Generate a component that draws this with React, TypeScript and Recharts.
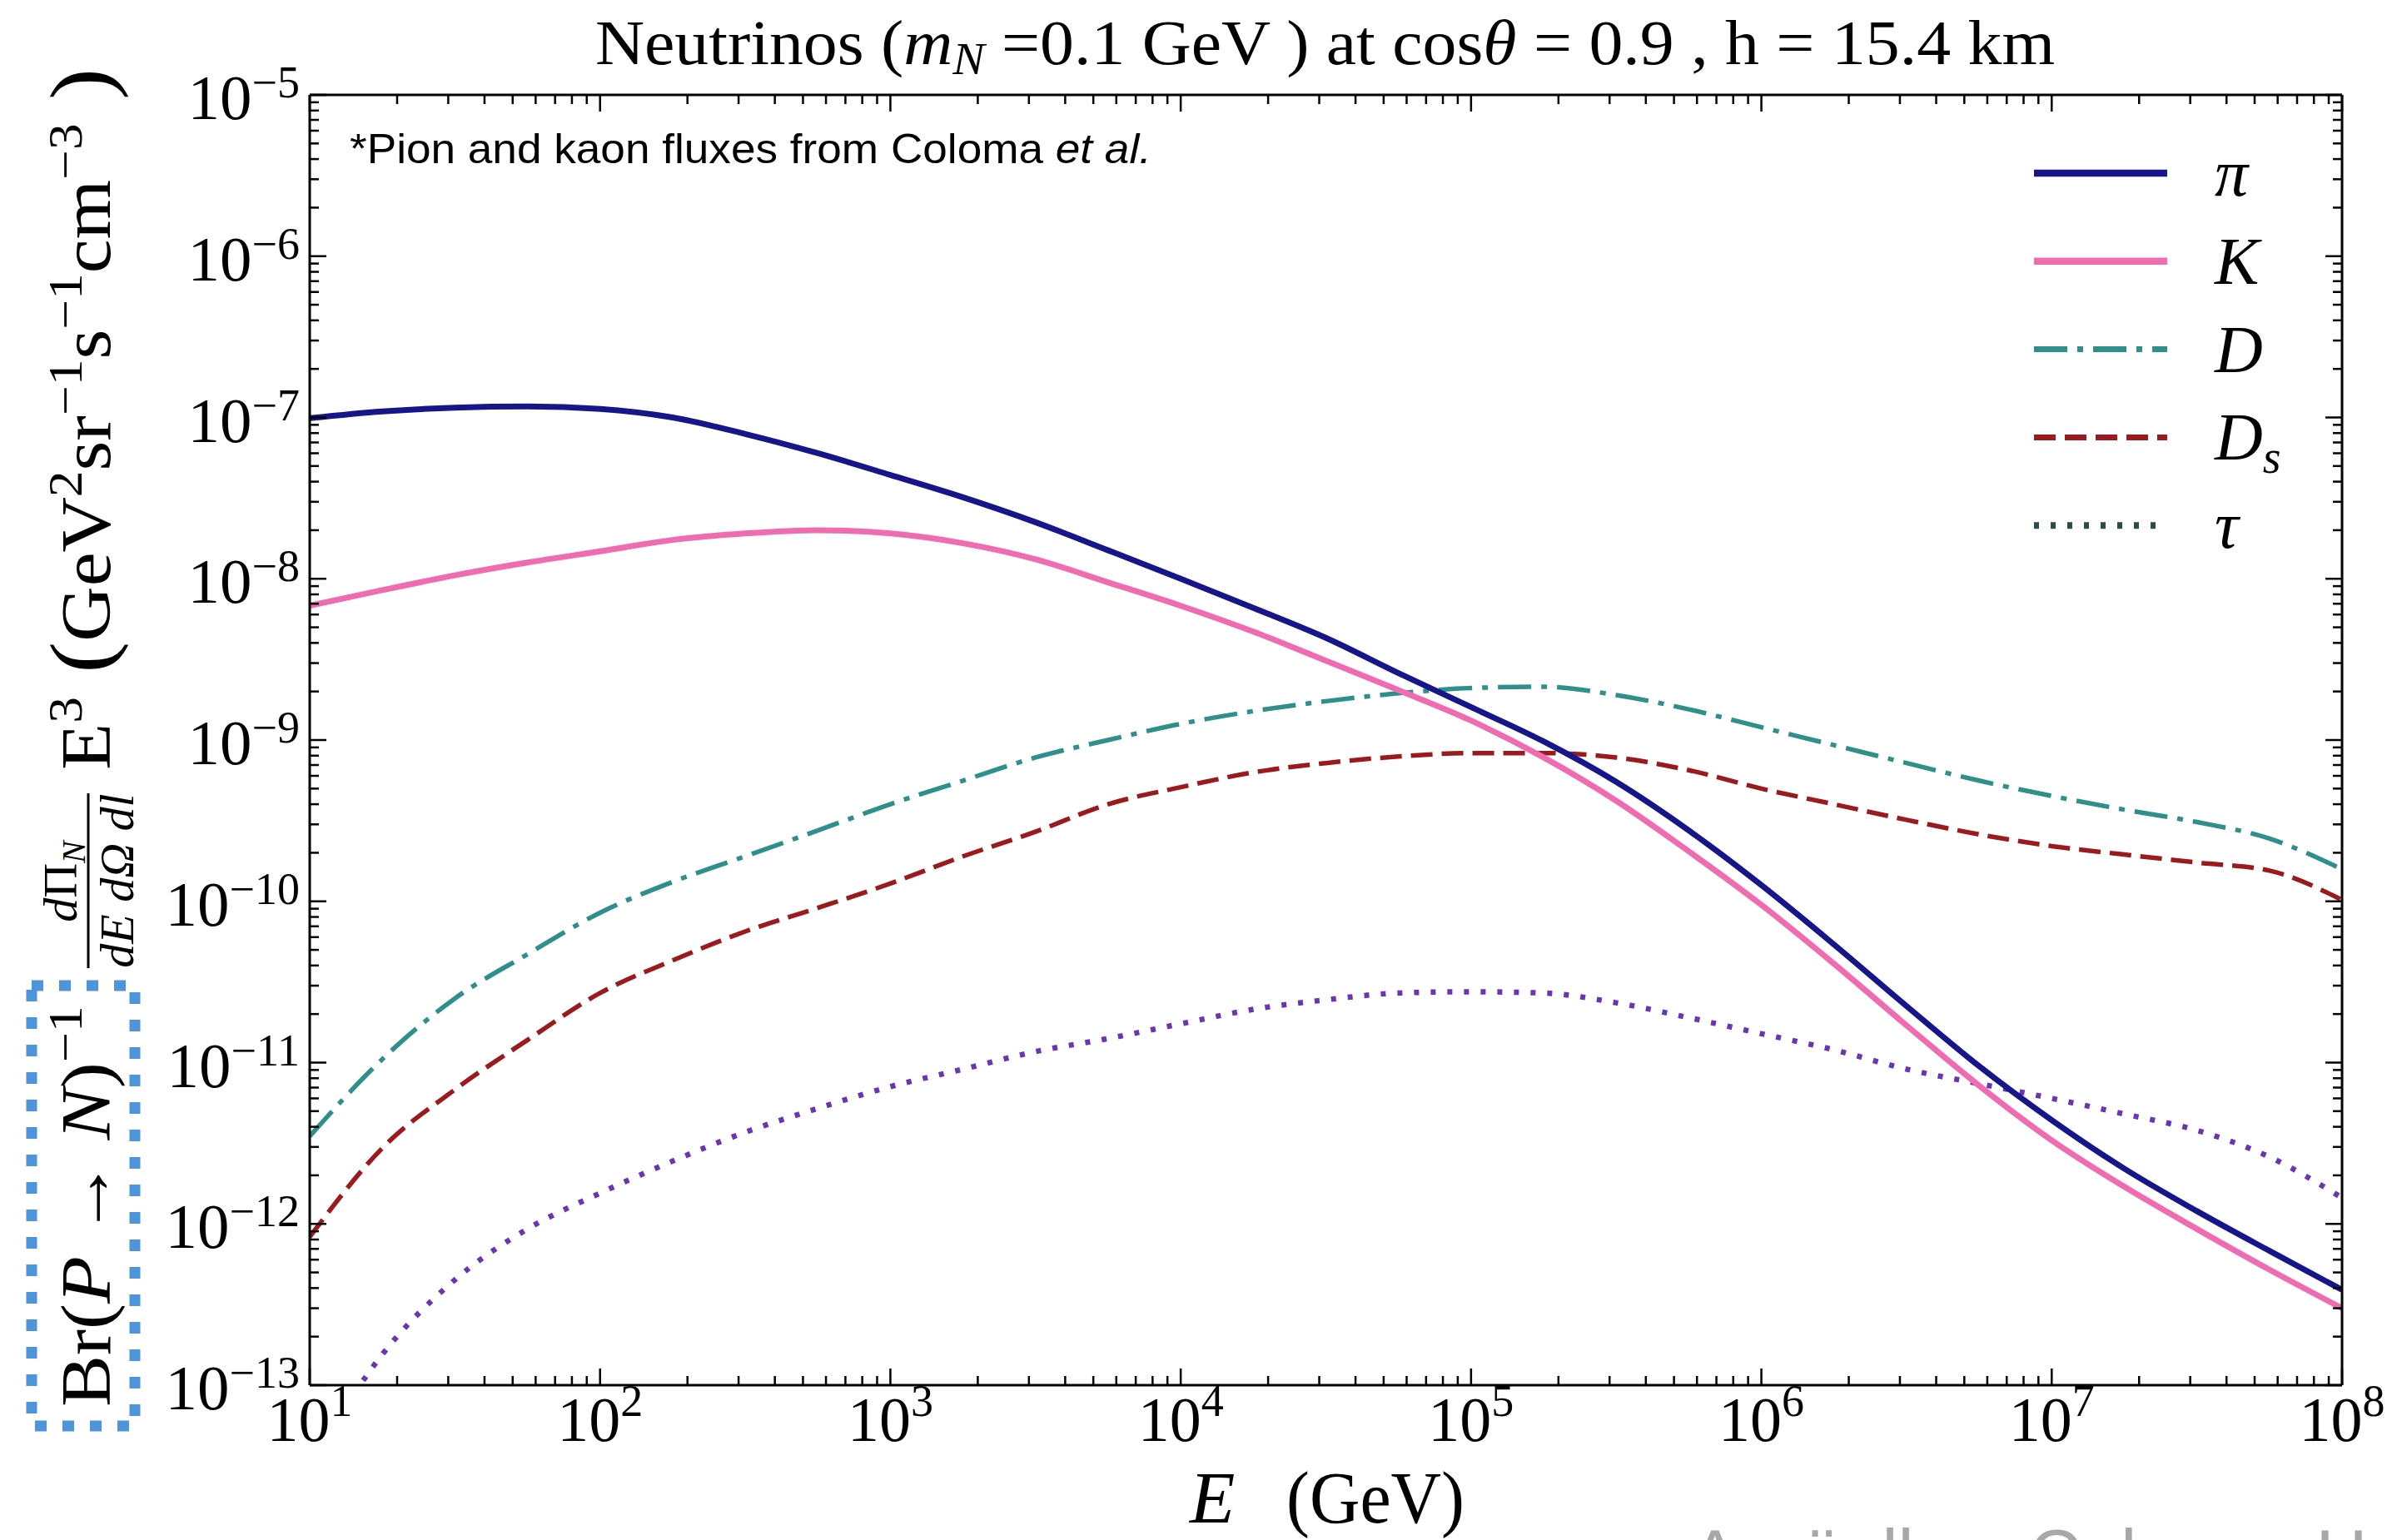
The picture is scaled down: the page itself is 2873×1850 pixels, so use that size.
import React from 'react';
import { LineChart, Line, XAxis, YAxis } from 'recharts';

// Energy grid (GeV), quarter-decade steps from 10 GeV to 1e8 GeV
const ENERGY = [
  10, 17.78, 31.62, 56.23, 100, 177.8, 316.2, 562.3, 1e3, 1778, 3162, 5623, 1e4,
  1.778e4, 3.162e4, 5.623e4, 1e5, 1.778e5, 3.162e5, 5.623e5, 1e6, 1.778e6, 3.162e6,
  5.623e6, 1e7, 1.778e7, 3.162e7, 5.623e7, 1e8,
];

// Br^-1 dPhi/(dE dOmega dl) E^3 for each parent meson / lepton
const PION = [
  9.9e-8, 1.09e-7, 1.15e-7, 1.17e-7, 1.13e-7, 1.0e-7, 7.9e-8, 6.0e-8, 4.4e-8, 3.2e-8,
  2.24e-8, 1.5e-8, 1.0e-8, 6.6e-9, 4.3e-9, 2.6e-9, 1.6e-9, 9.8e-10, 5.5e-10, 2.75e-10,
  1.26e-10, 5.4e-11, 2.24e-11, 9.5e-12, 4.4e-12, 2.2e-12, 1.2e-12, 6.8e-13, 3.9e-13,
];
const KAON = [
  6.8e-9, 8.5e-9, 1.05e-8, 1.26e-8, 1.48e-8, 1.74e-8, 1.91e-8, 2.0e-8, 1.91e-8, 1.66e-8,
  1.32e-8, 9.5e-9, 6.8e-9, 4.7e-9, 3.1e-9, 2.04e-9, 1.32e-9, 7.8e-10, 4.2e-10, 2.04e-10,
  9.5e-11, 4.1e-11, 1.7e-11, 7.2e-12, 3.3e-12, 1.7e-12, 9.3e-13, 5.2e-13, 3.0e-13,
];
const D_MESON = [
  3.5e-12, 1.05e-11, 2.5e-11, 4.7e-11, 8.5e-11, 1.32e-10, 1.9e-10, 2.75e-10, 4.0e-10, 5.6e-10,
  7.8e-10, 1.0e-9, 1.26e-9, 1.51e-9, 1.74e-9, 1.95e-9, 2.1e-9, 2.14e-9, 1.9e-9, 1.55e-9,
  1.2e-9, 9.3e-10, 7.2e-10, 5.6e-10, 4.5e-10, 3.7e-10, 3.1e-10, 2.45e-10, 1.58e-10,
];
const DS_MESON = [
  8.3e-13, 2.95e-12, 6.8e-12, 1.38e-11, 2.7e-11, 4.3e-11, 6.5e-11, 9.1e-11, 1.29e-10, 1.9e-10,
  2.7e-10, 4.0e-10, 5.1e-10, 6.3e-10, 7.2e-10, 7.9e-10, 8.3e-10, 8.3e-10, 7.8e-10, 6.5e-10,
  5.0e-10, 4.0e-10, 3.2e-10, 2.6e-10, 2.2e-10, 1.95e-10, 1.74e-10, 1.55e-10, 1.02e-10,
];
const TAU = [
  3.2e-14, 1.55e-13, 4.5e-13, 9.3e-13, 1.55e-12, 2.45e-12, 3.7e-12, 5.2e-12, 7.1e-12, 9.1e-12,
  1.17e-11, 1.41e-11, 1.74e-11, 2.14e-11, 2.45e-11, 2.7e-11, 2.75e-11, 2.7e-11, 2.35e-11, 1.9e-11,
  1.51e-11, 1.2e-11, 9.1e-12, 7.4e-12, 6.0e-12, 4.8e-12, 3.8e-12, 2.6e-12, 1.45e-12,
];

// Axis decades and minor multipliers
const X_DECADES = [1, 2, 3, 4, 5, 6, 7, 8];
const Y_DECADES = [-13, -12, -11, -10, -9, -8, -7, -6, -5];
const MINOR = [2, 3, 4, 5, 6, 7, 8, 9];

const buildTicks = (decades: number[]) => {
  const out: number[] = [];
  decades.forEach((d, i) => {
    out.push(Math.pow(10, d));
    if (i < decades.length - 1) MINOR.forEach((m) => out.push(m * Math.pow(10, d)));
  });
  return out;
};
const X_TICKS = buildTicks(X_DECADES);
const Y_TICKS = buildTicks(Y_DECADES);

const SERIES = [
  { key: 'D', label: 'D', sub: '', color: '#2f8f8a', legendColor: '#2f8f8a', width: 5.5, dash: '40 12 7 12' },
  { key: 'Ds', label: 'D', sub: 's', color: '#9a1a1e', legendColor: '#9a1a1e', width: 5.5, dash: '26 11' },
  { key: 'tau', label: 'τ', sub: '', color: '#6a35b0', legendColor: '#2c4b4b', width: 6.5, dash: '6 14' },
  { key: 'K', label: 'K', sub: '', color: '#ef6cb0', legendColor: '#ef6cb0', width: 7, dash: undefined },
  { key: 'pi', label: 'π', sub: '', color: '#16168a', legendColor: '#16168a', width: 7, dash: undefined },
];
const LEGEND_ORDER = ['pi', 'K', 'D', 'Ds', 'tau'];

const rows = ENERGY.map((E, i) => ({
  E,
  pi: PION[i],
  K: KAON[i],
  D: D_MESON[i],
  Ds: DS_MESON[i],
  tau: TAU[i],
}));

const SERIF = '"Liberation Serif", "Times New Roman", serif';
const SANS = '"Liberation Sans", Arial, sans-serif';
const MAJOR_LEN = 20;
const MINOR_LEN = 11;

const decadeOf = (v: number) => {
  const lg = Math.log10(v);
  const r = Math.round(lg);
  return Math.abs(lg - r) < 1e-6 ? r : null;
};
const sup = (n: number) => (n < 0 ? '\u2212' + Math.abs(n) : String(n));

const BottomTick = (props: any) => {
  const { x, y, payload } = props;
  const d = decadeOf(payload.value);
  return (
    <g>
      <line x1={x} x2={x} y1={y} y2={y - (d !== null ? MAJOR_LEN : MINOR_LEN)} stroke="#000" strokeWidth={2.5} />
      {d !== null && (
        <text x={x} y={y + 67} textAnchor="middle" fontFamily={SERIF} fontSize={76} fill="#000">
          10<tspan fontSize={54} dy={-30}>{sup(d)}</tspan>
        </text>
      )}
    </g>
  );
};
const TopTick = (props: any) => {
  const { x, y, payload } = props;
  const d = decadeOf(payload.value);
  return <line x1={x} x2={x} y1={y} y2={y + (d !== null ? MAJOR_LEN : MINOR_LEN)} stroke="#000" strokeWidth={2.5} />;
};
const LeftTick = (props: any) => {
  const { x, y, payload } = props;
  const d = decadeOf(payload.value);
  return (
    <g>
      <line x1={x} x2={x + (d !== null ? MAJOR_LEN : MINOR_LEN)} y1={y} y2={y} stroke="#000" strokeWidth={2.5} />
      {d !== null && (
        <text x={x - 12} y={y + 29} textAnchor="end" fontFamily={SERIF} fontSize={77} fill="#000">
          10<tspan fontSize={54} dy={-26}>{sup(d)}</tspan>
        </text>
      )}
    </g>
  );
};
const RightTick = (props: any) => {
  const { x, y, payload } = props;
  const d = decadeOf(payload.value);
  return <line x1={x} x2={x - (d !== null ? MAJOR_LEN : MINOR_LEN)} y1={y} y2={y} stroke="#000" strokeWidth={2.5} />;
};

const W = 2873;
const H = 1850;
const AXIS_LINE = { stroke: '#000', strokeWidth: 3 };

const Overlay = () => {
  const legendRows = LEGEND_ORDER.map((k) => SERIES.find((s) => s.key === k)!);
  return (
    <svg width={W} height={H} style={{ position: 'absolute', left: 0, top: 0, pointerEvents: 'none' }}>
      {/* title */}
      <text x={715} y={77} fontFamily={SERIF} fontSize={77} fill="#000" textLength={1753} lengthAdjust="spacingAndGlyphs">
        Neutrinos (<tspan fontStyle="italic">m</tspan>
        <tspan fontStyle="italic" fontSize={54} dy={12}>N</tspan>
        <tspan dy={-12}> =0.1 GeV ) at cos</tspan>
        <tspan fontStyle="italic">θ</tspan> = 0.9 , h = 15.4 km
      </text>

      {/* source note */}
      <text x={420} y={196} fontFamily={SANS} fontSize={50} fill="#000" textLength={963} lengthAdjust="spacingAndGlyphs">
        *Pion and kaon fluxes from Coloma <tspan fontStyle="italic">et al.</tspan>
      </text>

      {/* legend */}
      {legendRows.map((s, i) => {
        const ly = 208 + i * 105.8;
        return (
          <g key={s.key}>
            <line x1={2443} x2={2603} y1={ly} y2={ly} stroke={s.legendColor} strokeWidth={s.width + 1.5} strokeDasharray={s.dash} />
            <text x={2660} y={ly + 27} fontFamily={SERIF} fontStyle="italic" fontSize={80} fill="#000">
              {s.label}
              {s.sub && <tspan fontSize={56} dy={16}>{s.sub}</tspan>}
            </text>
          </g>
        );
      })}

      {/* x axis label */}
      <text x={1429} y={1829} fontFamily={SERIF} fontStyle="italic" fontSize={89} fill="#000">E</text>
      <text x={1545} y={1829} fontFamily={SERIF} fontSize={89} fill="#000" textLength={214} lengthAdjust="spacingAndGlyphs">(GeV)</text>

      {/* y axis label */}
      <g transform="rotate(-90)" fontFamily={SERIF} fill="#000">
        <text x={-1690} y={132} fontSize={84} textLength={482} lengthAdjust="spacingAndGlyphs">
          Br(<tspan fontStyle="italic">P</tspan> → <tspan fontStyle="italic">N</tspan>)
          <tspan fontSize={58} dy={-34}>−1</tspan>
        </text>
        <text x={-1059} y={92} textAnchor="middle" fontSize={58}>
          <tspan fontStyle="italic">d</tspan>Π<tspan fontStyle="italic" fontSize={40} dy={10}>N</tspan>
        </text>
        <line x1={-1163} x2={-953} y1={106} y2={106} stroke="#000" strokeWidth={3} />
        <text x={-1058} y={160} textAnchor="middle" fontSize={58} fontStyle="italic">
          dE dΩ dl
        </text>
        <text x={-925} y={132} fontSize={84} textLength={843} lengthAdjust="spacingAndGlyphs">
          E<tspan fontSize={58} dy={-34}>3</tspan>
          <tspan dy={34} fontSize={104}> (</tspan>
          <tspan>GeV</tspan>
          <tspan fontSize={58} dy={-34}>2</tspan>
          <tspan dy={34}>sr</tspan>
          <tspan fontSize={58} dy={-34}>−1</tspan>
          <tspan dy={34}>s</tspan>
          <tspan fontSize={58} dy={-34}>−1</tspan>
          <tspan dy={34}>cm</tspan>
          <tspan fontSize={58} dy={-34}>−3</tspan>
          <tspan dy={34} fontSize={104}> )</tspan>
        </text>
      </g>

      {/* dotted highlight box */}
      <rect x={38} y={1184} width={124} height={529} fill="none" stroke="#4d94db" strokeWidth={13} strokeDasharray="14 19" />

      {/* author line along the lower edge */}
      <text x={2031} y={1897} fontFamily={SANS} fontSize={86} fill="#a8a8a8">
        Argüelles, Coloma, Hernández, Muñoz
      </text>
    </svg>
  );
};

export default function App() {
  return (
    <div style={{ position: 'absolute', left: 0, top: 0, width: W, height: H, background: '#fff', overflow: 'hidden' }}>
      <LineChart width={W} height={H} data={rows} margin={{ top: 84, right: 0, bottom: 156, left: 312 }}>
        <XAxis
          xAxisId="bottom"
          dataKey="E"
          type="number"
          scale="log"
          domain={[10, 1e8]}
          allowDataOverflow
          ticks={X_TICKS}
          interval={0}
          tickSize={0}
          tickMargin={0}
          tick={<BottomTick />}
          tickLine={false}
          axisLine={AXIS_LINE}
          height={30}
        />
        <XAxis
          xAxisId="top"
          orientation="top"
          dataKey="E"
          type="number"
          scale="log"
          domain={[10, 1e8]}
          allowDataOverflow
          ticks={X_TICKS}
          interval={0}
          tickSize={0}
          tickMargin={0}
          tick={<TopTick />}
          tickLine={false}
          axisLine={AXIS_LINE}
          height={30}
        />
        <YAxis
          yAxisId="left"
          type="number"
          scale="log"
          domain={[1e-13, 1e-5]}
          allowDataOverflow
          ticks={Y_TICKS}
          interval={0}
          tickSize={0}
          tickMargin={0}
          tick={<LeftTick />}
          tickLine={false}
          axisLine={AXIS_LINE}
          width={60}
        />
        <YAxis
          yAxisId="right"
          orientation="right"
          type="number"
          scale="log"
          domain={[1e-13, 1e-5]}
          allowDataOverflow
          ticks={Y_TICKS}
          interval={0}
          tickSize={0}
          tickMargin={0}
          tick={<RightTick />}
          tickLine={false}
          axisLine={AXIS_LINE}
          width={60}
        />
        {SERIES.map((s) => (
          <Line
            key={s.key}
            xAxisId="bottom"
            yAxisId="left"
            dataKey={s.key}
            type="monotone"
            stroke={s.color}
            strokeWidth={s.width}
            strokeDasharray={s.dash}
            dot={false}
            activeDot={false}
            isAnimationActive={false}
          />
        ))}
      </LineChart>
      <Overlay />
    </div>
  );
}
